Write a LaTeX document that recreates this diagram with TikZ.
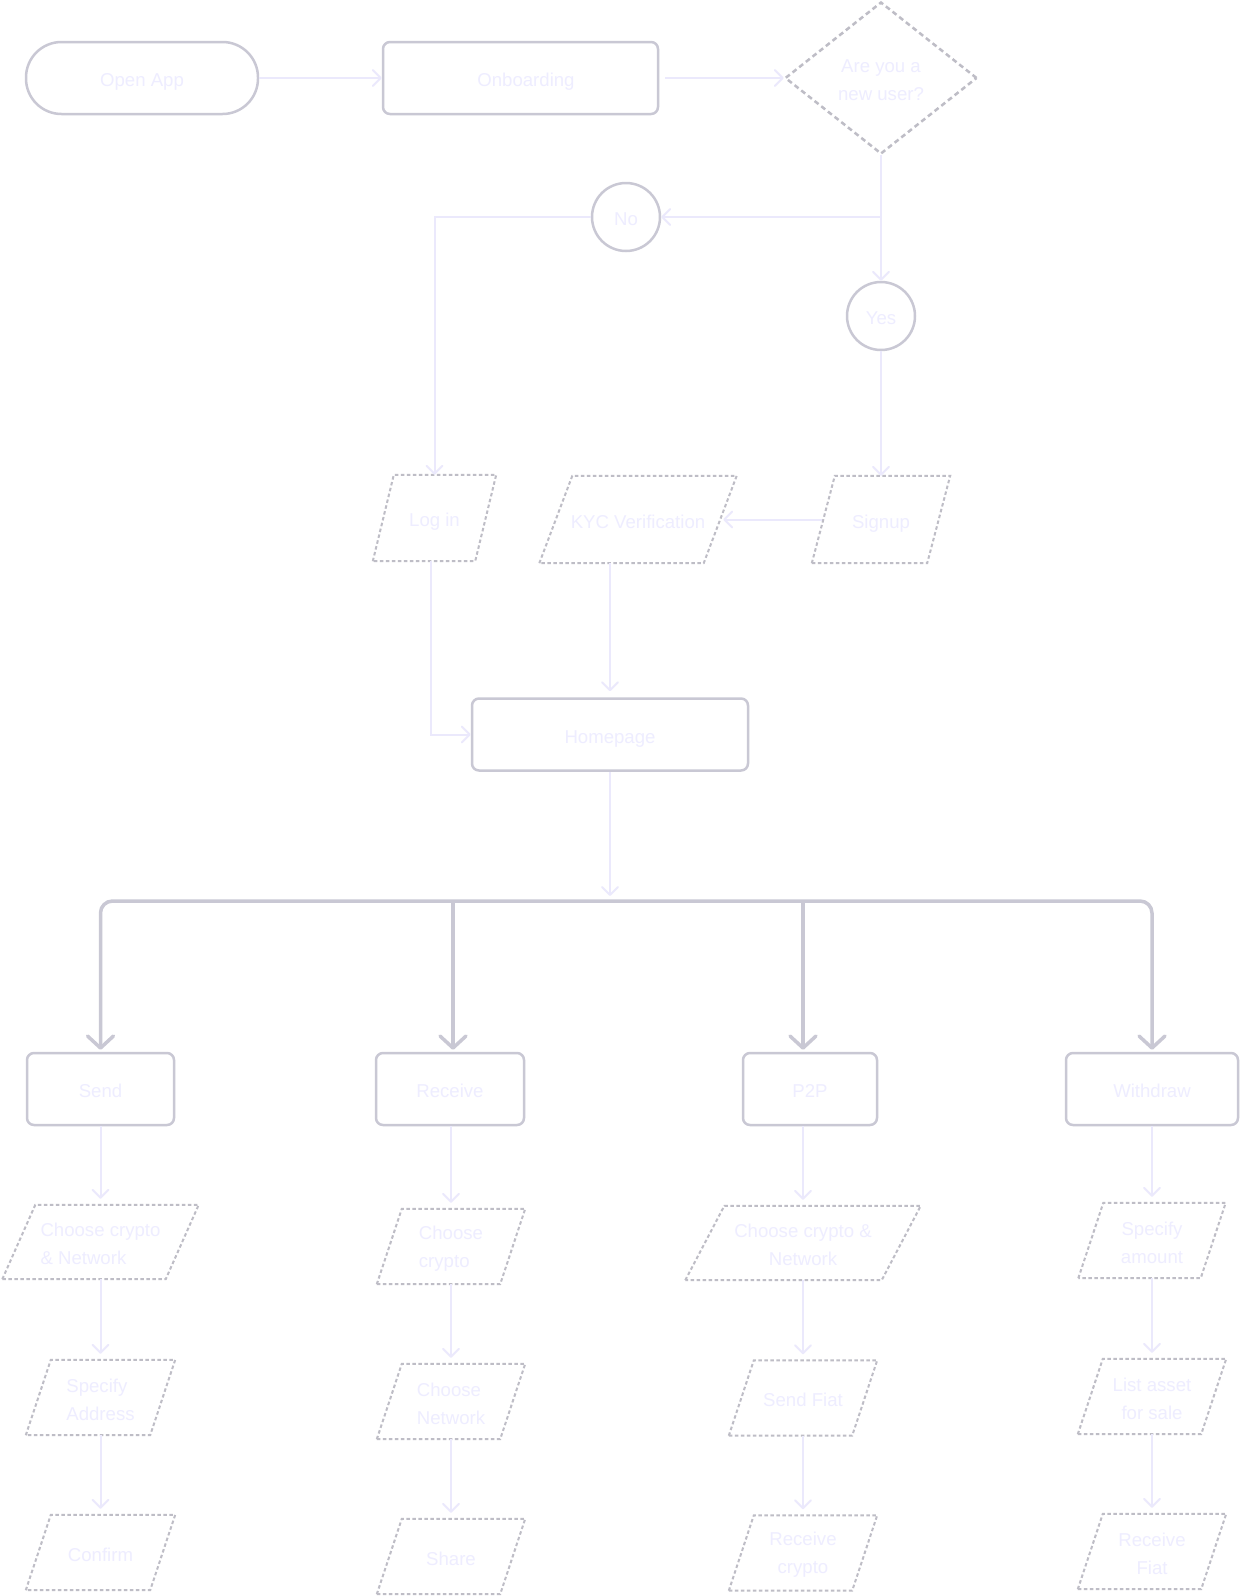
\documentclass[tikz,border=0pt]{standalone}
\usepackage{fontspec}
\setmainfont{Liberation Sans}
\usetikzlibrary{arrows.meta,shapes.geometric,calc}
\definecolor{txtc}{HTML}{EEEDFF}
\definecolor{linec}{HTML}{EBE9FC}
\definecolor{boxc}{HTML}{C9C8D4}
\definecolor{dashc}{HTML}{BEBDC6}
\newcommand\dgfont{\fontsize{18.6pt}{28pt}\selectfont}
\newcommand\lineup{\rule{0pt}{17.5pt}}
\tikzset{
  every node/.style={font=\dgfont, text=txtc},
  oneline/.style={text height=17pt, text depth=0pt},
  twoline/.style={},
  solidbox/.style={rectangle, draw=boxc, line width=2.5pt, rounded corners=7pt, minimum height=72pt, inner sep=0pt, oneline},
  roundnode/.style={circle, draw=boxc, line width=2.5pt, minimum size=68pt, inner sep=0pt, oneline},
  pgtext/.style={rectangle, draw=none, inner sep=0pt},
  dashbox/.style={draw=dashc, line width=2pt, dash pattern=on 3.5pt off 2.5pt},
  conn/.style={draw=linec, line width=2pt, -{Straight Barb[length=8pt,width=16pt,round]}},
  busline/.style={draw=boxc, line width=3.5pt},
  bustip/.style={-{Straight Barb[length=12pt,width=26pt,round]}},
}
% parallelogram: name, cx, cy, width, height, slant, options, text
\newcommand\pgm[8]{%
  \node[pgtext, minimum width=#4pt, minimum height=#5pt, #7] (#1) at (#2,#3) {#8};
  \draw[dashbox] (#1.south west) -- ($(#1.north west)+(#6,0)$) -- (#1.north east)
     -- ($(#1.south east)-(#6,0)$) -- cycle;
  \coordinate (#1-l) at ($(#1.west)+(#6/2,0)$);
  \coordinate (#1-r) at ($(#1.east)-(#6/2,0)$);
}
\begin{document}
\begin{tikzpicture}[x=1pt,y=-1pt]
\fill[white] (0,0) rectangle (1240,1596);
\useasboundingbox (0,0) rectangle (1240,1596);

% top row
\node[solidbox, rounded corners=35.5pt, minimum width=232pt] (open) at (142,78) {Open App};
\node[solidbox, minimum width=275pt] (onb) at (520.5,78) {\hspace*{11pt}Onboarding};
\node[diamond, draw=dashc, line width=2.5pt, dash pattern=on 5pt off 3.5pt, minimum width=192pt, minimum height=152pt, inner sep=0pt, aspect=1.26, align=center, twoline] (dia) at (881,78) {\lineup Are you a\\new user?};

\node[roundnode] (no) at (626,217) {No};
\node[roundnode] (yes) at (881,316) {Yes};

% second row
\pgm{login}{434.5}{518}{123}{86}{21}{oneline}{Log in}
\pgm{kyc}{638}{519.5}{197}{87}{33}{oneline}{KYC Verification}
\pgm{signup}{881}{519.5}{138}{87}{23}{oneline}{Signup}

\node[solidbox, minimum width=276pt] (home) at (610,734.5) {Homepage};

% branch boxes
\node[solidbox, minimum width=147pt] (send) at (100.5,1089) {Send};
\node[solidbox, minimum width=148pt] (rec) at (450,1089) {Receive};
\node[solidbox, minimum width=134pt] (p2p) at (810,1089) {P2P};
\node[solidbox, minimum width=172pt] (wd) at (1152,1089) {Withdraw};

% columns
\pgm{sA}{100.5}{1242}{196}{74}{33}{align=left, twoline}{\lineup Choose crypto\\\& Network}
\pgm{sB}{100.5}{1397.5}{149}{75}{25}{align=left, twoline}{\lineup Specify\\Address}
\pgm{sC}{100.5}{1552.5}{149}{75}{25}{oneline}{Confirm}

\pgm{rA}{451}{1246.5}{148}{75}{25}{align=left, twoline}{\lineup Choose\\crypto}
\pgm{rB}{451}{1401.5}{148}{75}{25}{align=left, twoline}{\lineup Choose\\Network}
\pgm{rC}{451}{1556.5}{148}{75}{25}{oneline}{Share}

\pgm{pA}{803}{1243}{235}{74}{39}{align=center, twoline}{\lineup Choose crypto \&\\Network}
\pgm{pB}{803}{1398}{148}{75}{25}{oneline}{Send Fiat}
\pgm{pC}{803}{1553}{148}{75}{25}{align=center, twoline}{\lineup Receive\\crypto}

\pgm{wA}{1152}{1240.5}{147}{75}{25}{align=center, twoline}{\lineup Specify\\amount}
\pgm{wB}{1152}{1396.5}{148}{75}{25}{align=center, twoline}{\lineup List asset\\for sale}
\pgm{wC}{1152}{1551.5}{148}{75}{25}{align=center, twoline}{\lineup Receive\\Fiat}

% connectors top
\draw[conn] (open.east) -- (onb.west);
\draw[conn, shorten <=6pt] (onb.east) -- (dia.west);
\draw[conn] (dia.south) -- (yes.north);
\draw[conn] (dia.south |- no.east) -- (no.east);
\draw[conn] (no.west) -| (login.north);
\draw[conn] (yes.south) -- (signup.north);
\draw[conn, shorten <=1pt, shorten >=3pt] (signup-l) -- (kyc-r);
\draw[conn, shorten >=6pt] (kyc.south -| home.north) -- (home.north);
\draw[conn] ($(login.south)+(-4,0)$) |- (home.west);

% bus
\coordinate (hb) at (610,901);
\coordinate (j2) at (453,901);
\coordinate (j3) at (803,901);
\draw[conn, shorten >=5pt] (home.south) -- (hb);
\draw[busline, {Straight Barb[length=12pt,width=26pt,round]}-{Straight Barb[length=12pt,width=26pt,round]}, shorten <=2pt, shorten >=2pt, rounded corners=12pt] (send.north) |- (j2) -| (wd.north);
\draw[busline, bustip, shorten >=2pt] (j2) -- (j2 |- rec.north);
\draw[busline, bustip, shorten >=2pt] (j3) -- (j3 |- p2p.north);

% column connectors
\draw[conn, shorten >=6pt] (sA.north |- send.south) -- (sA.north);
\draw[conn, shorten >=6pt] (sA.south) -- (sB.north);
\draw[conn, shorten >=6pt] (sB.south) -- (sC.north);
\draw[conn, shorten >=6pt] (rA.north |- rec.south) -- (rA.north);
\draw[conn, shorten >=6pt] (rA.south) -- (rB.north);
\draw[conn, shorten >=6pt] (rB.south) -- (rC.north);
\draw[conn, shorten >=6pt] (pA.north |- p2p.south) -- (pA.north);
\draw[conn, shorten >=6pt] (pA.south) -- (pB.north);
\draw[conn, shorten >=6pt] (pB.south) -- (pC.north);
\draw[conn, shorten >=6pt] (wA.north |- wd.south) -- (wA.north);
\draw[conn, shorten >=6pt] (wA.south) -- (wB.north);
\draw[conn, shorten >=6pt] (wB.south) -- (wC.north);
\end{tikzpicture}
\end{document}
